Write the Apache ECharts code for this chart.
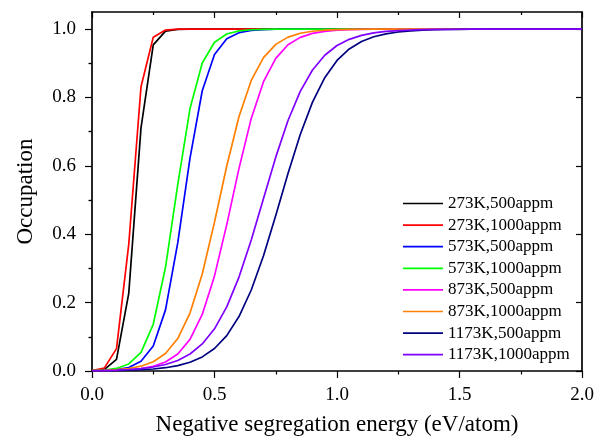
<!DOCTYPE html>
<html>
<head>
<meta charset="utf-8">
<style>
  html, body { margin: 0; padding: 0; background: #fff; }
  #chart { width: 604px; height: 440px; }
</style>
<script src="https://cdn.jsdelivr.net/npm/echarts@6/dist/echarts.min.js"></script>
</head>
<body>
<div id="chart"></div>
<script>
// Segregation energy grid (eV/atom)
const energy = [0.00,0.05,0.10,0.15,0.20,0.25,0.30,0.35,0.40,0.45,
  0.50,0.55,0.60,0.65,0.70,0.75,0.80,0.85,0.90,0.95,
  1.00,1.05,1.10,1.15,1.20,1.25,1.30,1.35,1.40,1.45,
  1.50,1.55,1.60,1.65,1.70,1.75,1.80,1.85,1.90,1.95,2.00];

const seriesNames = ['273K,500appm','273K,1000appm','573K,500appm','573K,1000appm',
  '873K,500appm','873K,1000appm','1173K,500appm','1173K,1000appm'];
const seriesColors = ['#000000','#ff0000','#0000ff','#00ff00','#ff00ff','#ff8000','#000080','#8000ff'];

// Occupation for each temperature / bulk concentration
const occ273_500 = [0.0005,0.0042,0.0339,0.2272,0.7111,0.9538,0.9942,0.9993,0.9999,1,
  1,1,1,1,1,1,1,1,1,1, 1,1,1,1,1,1,1,1,1,1, 1,1,1,1,1,1,1,1,1,1, 1];
const occ273_1000 = [0.0010,0.0083,0.0655,0.3704,0.8312,0.9763,0.9971,0.9997,1,1,
  1,1,1,1,1,1,1,1,1,1, 1,1,1,1,1,1,1,1,1,1, 1,1,1,1,1,1,1,1,1,1, 1];
const occ573_500 = [0.0005,0.0014,0.0038,0.0103,0.0286,0.0733,0.1788,0.3747,0.6226,0.8196,
  0.9259,0.9718,0.9896,0.9962,0.9986,0.9995,0.9998,0.9999,1,1,
  1,1,1,1,1,1,1,1,1,1, 1,1,1,1,1,1,1,1,1,1, 1];
const occ573_1000 = [0.0010,0.0028,0.0075,0.0205,0.0544,0.1366,0.3034,0.5453,0.7675,0.9009,
  0.9616,0.9857,0.9948,0.9981,0.9993,0.9997,0.9999,1,1,1,
  1,1,1,1,1,1,1,1,1,1, 1,1,1,1,1,1,1,1,1,1, 1];
const occ873_500 = [0.0005,0.0010,0.0019,0.0037,0.0071,0.0137,0.0263,0.0498,0.0925,0.1654,
  0.2781,0.4282,0.5927,0.7388,0.8461,0.9145,0.9541,0.9758,0.9874,0.9935,
  0.9966,0.9983,0.9991,0.9995,0.9998,0.9999,1,1,1,1,
  1,1,1,1,1,1,1,1,1,1, 1];
const occ873_1000 = [0.0010,0.0019,0.0038,0.0073,0.0141,0.0270,0.0512,0.0950,0.1694,0.2839,
  0.4353,0.5997,0.7444,0.8499,0.9167,0.9553,0.9765,0.9878,0.9937,0.9967,
  0.9983,0.9991,0.9996,0.9998,0.9999,1,1,1,1,1,
  1,1,1,1,1,1,1,1,1,1, 1];
const occ1173_500 = [0.0005,0.0008,0.0013,0.0022,0.0036,0.0059,0.0096,0.0157,0.0255,0.0412,
  0.0658,0.1035,0.1592,0.2369,0.3373,0.4550,0.5779,0.6919,0.7864,0.8579,
  0.9083,0.9420,0.9638,0.9776,0.9862,0.9916,0.9948,0.9968,0.9981,0.9988,
  0.9993,0.9996,0.9997,0.9998,0.9999,1,1,1,1,1, 1];
const occ1173_1000 = [0.0010,0.0016,0.0027,0.0044,0.0072,0.0117,0.0191,0.0309,0.0497,0.0791,
  0.1234,0.1876,0.2747,0.3831,0.5046,0.6255,0.7326,0.8179,0.8805,0.9236,
  0.9520,0.9701,0.9816,0.9887,0.9931,0.9958,0.9974,0.9984,0.9990,0.9994,
  0.9996,0.9998,0.9999,1,1,1,1,1,1,1, 1];

const seriesData = [occ273_500, occ273_1000, occ573_500, occ573_1000,
  occ873_500, occ873_1000, occ1173_500, occ1173_1000];

// Tick positions
const yMajorTicks = [0, 0.2, 0.4, 0.6, 0.8, 1.0];
const yMinorTicks = [0.1, 0.3, 0.5, 0.7, 0.9];

const FONT = '"Liberation Serif", "DejaVu Serif", serif';
const BLACK = '#000';

const chart = echarts.init(document.getElementById('chart'), null, { renderer: 'canvas' });

const frameLine = { show: true, onZero: false, lineStyle: { color: BLACK, width: 1.7 } };

const option = {
  animation: false,
  backgroundColor: '#fff',
  grid: { left: 92, right: 22, top: 12, bottom: 69, containLabel: false, outerBoundsMode: 'none' },
  legend: {
    orient: 'vertical',
    left: 398,
    top: 190,
    itemWidth: 40,
    itemHeight: 1.7,
    itemGap: 4.6,
    textStyle: { fontFamily: FONT, fontSize: 17, color: BLACK, lineHeight: 17 },
    data: seriesNames.map((n, i) => ({
      name: n,
      icon: 'rect',
      itemStyle: { color: seriesColors[i] }
    }))
  },
  xAxis: [
    {
      type: 'value', position: 'bottom', min: 0, max: 2, interval: 0.5,
      name: 'Negative segregation energy (eV/atom)',
      nameLocation: 'middle', nameGap: 42,
      nameTextStyle: { fontFamily: FONT, fontSize: 23, color: BLACK },
      axisLine: frameLine,
      axisTick: { show: true, inside: false, length: 7, lineStyle: { color: BLACK, width: 1.2 } },
      minorTick: { show: true, splitNumber: 2, length: 3.5, lineStyle: { color: BLACK, width: 1.2 } },
      axisLabel: { fontFamily: FONT, fontSize: 19, color: BLACK, margin: 15,
        formatter: v => v.toFixed(1) },
      splitLine: { show: false }
    },
    {
      type: 'value', position: 'top', min: 0, max: 2, interval: 0.5,
      axisLine: frameLine,
      axisTick: { show: true, inside: true, length: 6, lineStyle: { color: BLACK, width: 1.2 } },
      minorTick: { show: true, splitNumber: 2, length: 3, lineStyle: { color: BLACK, width: 1.2 } },
      axisLabel: { show: false },
      splitLine: { show: false }
    }
  ],
  yAxis: [
    {
      type: 'value', position: 'left', min: 0, max: 1.05,
      name: 'Occupation', nameLocation: 'middle', nameGap: 55, nameRotate: 90,
      nameTextStyle: { fontFamily: FONT, fontSize: 23, color: BLACK },
      axisLine: frameLine,
      axisTick: { show: true, inside: false, length: 7, customValues: yMajorTicks,
        lineStyle: { color: BLACK, width: 1.2 } },
      axisLabel: { fontFamily: FONT, fontSize: 19, color: BLACK, margin: 16,
        customValues: yMajorTicks, formatter: v => v.toFixed(1) },
      splitLine: { show: false }
    },
    {
      type: 'value', position: 'left', min: 0, max: 1.05,
      axisLine: { show: false },
      axisTick: { show: true, inside: false, length: 3.5, customValues: yMinorTicks,
        lineStyle: { color: BLACK, width: 1.2 } },
      axisLabel: { show: false },
      splitLine: { show: false }
    },
    {
      type: 'value', position: 'right', min: 0, max: 1.05,
      axisLine: frameLine,
      axisTick: { show: true, inside: true, length: 6, customValues: yMajorTicks,
        lineStyle: { color: BLACK, width: 1.2 } },
      axisLabel: { show: false },
      splitLine: { show: false }
    },
    {
      type: 'value', position: 'right', min: 0, max: 1.05,
      axisLine: { show: false },
      axisTick: { show: true, inside: true, length: 3, customValues: yMinorTicks,
        lineStyle: { color: BLACK, width: 1.2 } },
      axisLabel: { show: false },
      splitLine: { show: false }
    }
  ],
  series: seriesNames.map((name, i) => ({
    name: name,
    type: 'line',
    xAxisIndex: 0,
    yAxisIndex: 0,
    symbol: 'none',
    smooth: false,
    lineStyle: { color: seriesColors[i], width: 1.7 },
    itemStyle: { color: seriesColors[i] },
    data: energy.map((e, k) => [e, seriesData[i][k]])
  }))
};

chart.setOption(option);
</script>
</body>
</html>
